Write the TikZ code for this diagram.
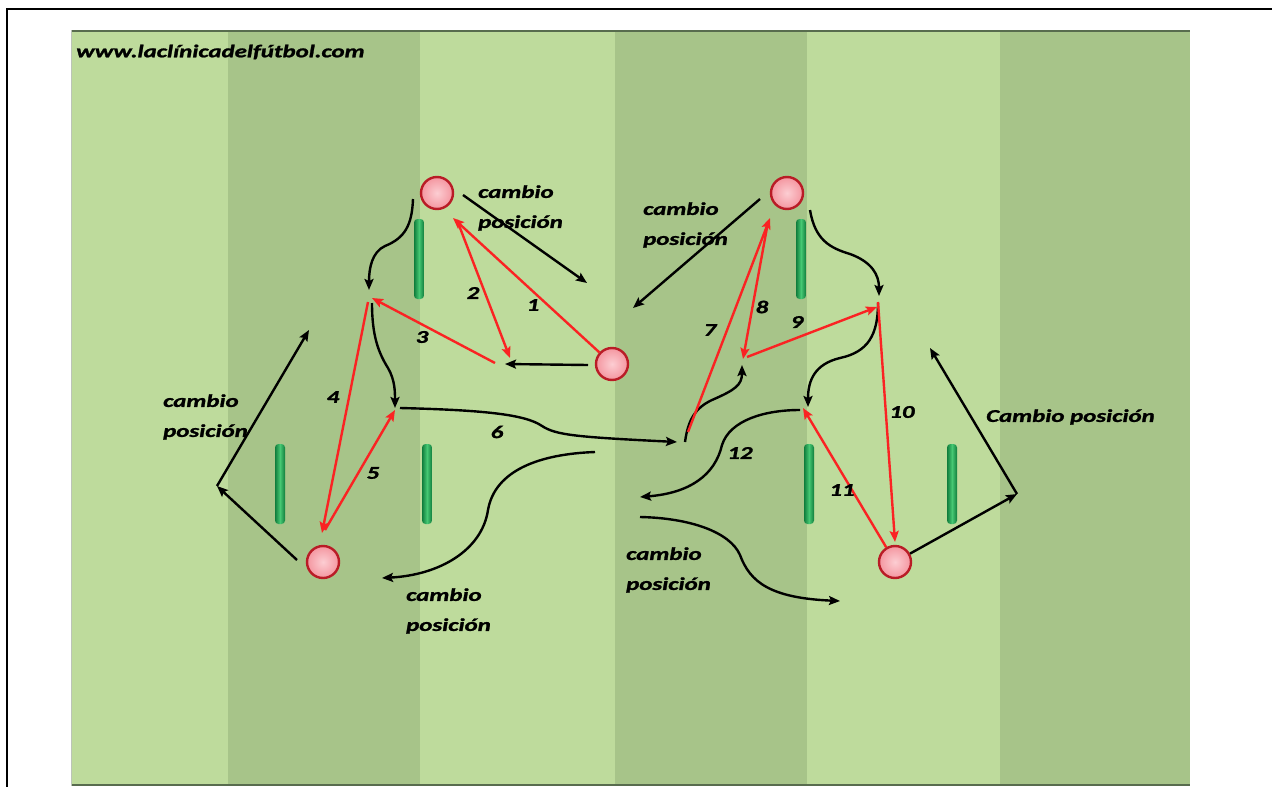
\documentclass[tikz,border=0pt]{standalone}
\usepackage{fontspec}
\setmainfont{Carlito}[BoldItalicFeatures={FakeBold=1.2}]
\usepackage{graphicx}
\usetikzlibrary{arrows.meta}

\definecolor{grassLight}{RGB}{190,219,156}
\definecolor{grassDark}{RGB}{167,196,137}
\definecolor{edgeDark}{RGB}{88,108,78}
\definecolor{playerFill}{RGB}{244,150,160}
\definecolor{playerCore}{RGB}{252,205,210}
\definecolor{playerRim}{RGB}{185,28,38}
\definecolor{poleDark}{RGB}{16,125,60}
\definecolor{poleLight}{RGB}{70,200,115}
\definecolor{passRed}{RGB}{250,35,35}

% widened bold italic lettering
\newcommand\wide[1]{\scalebox{1.38}[1]{#1}}
\newcommand\twolines[2]{\scalebox{1.38}[1]{\vbox{\baselineskip=30pt\hbox{#1}\hbox{#2}}}}

\begin{document}
\begin{tikzpicture}[x=1pt,y=-1pt,
  txt/.style={inner sep=0pt, font=\fontsize{18}{21}\selectfont\bfseries\itshape, text=black},
  player/.style={circle, minimum size=32pt, inner sep=0pt, draw=playerRim, line width=2.4pt,
                 inner color=playerCore, outer color=playerFill},
  pole/.style={rectangle, rounded corners=3.5pt, minimum width=10pt, minimum height=80pt, inner sep=0pt,
               left color=poleDark, right color=poleDark, middle color=poleLight},
  move/.style={draw=black, line width=2.4pt, -{Stealth[length=11pt,width=9pt,inset=2pt]}},
  pass/.style={draw=passRed, line width=2.4pt, -{Stealth[length=11pt,width=9pt,inset=2pt]}},
]
\useasboundingbox (0,0) rectangle (1272,787);

% striped pitch
\fill[grassLight] (71,30) rectangle (1190,786);
\fill[grassDark] (228,30) rectangle (420,786);
\fill[grassDark] (615,30) rectangle (807,786);
\fill[grassDark] (1000,30) rectangle (1190,786);
\draw[edgeDark, line width=2pt] (71,31) -- (1190,31);
\draw[edgeDark, line width=2pt] (71,785) -- (1190,785);
\draw[edgeDark!40, line width=1pt] (71.5,30) -- (71.5,786);

% page frame
\draw[black, line width=2.6pt] (1272,9) -- (7,9) -- (7,787);

% poles
\node[pole] (poleA) at (419,259) {};
\node[pole] (poleD) at (801,259) {};
\node[pole] (poleC1) at (280,484) {};
\node[pole] (poleC2) at (427,484) {};
\node[pole] (poleE1) at (809,484) {};
\node[pole] (poleE2) at (952,484) {};

% players
\node[player] (pA) at (437,193) {};
\node[player] (pB) at (612,364) {};
\node[player] (pC) at (323,562) {};
\node[player] (pD) at (787,193) {};
\node[player] (pE) at (895,562) {};

% free ends of the runs and passes
\coordinate (t1) at (453,218);
\coordinate (s2) at (457,220);
\coordinate (t2) at (510,358);
\coordinate (s3) at (495,363);
\coordinate (t3) at (372,298);
\coordinate (s4) at (368,302);
\coordinate (t4) at (322,533);
\coordinate (s5) at (325,530);
\coordinate (t5) at (395,410);
\coordinate (sB) at (588,365);
\coordinate (tB) at (505,364);
\coordinate (sA1) at (413,199);
\coordinate (tA1) at (369,290);
\coordinate (sA2) at (372,303);
\coordinate (tA2) at (395,408);
\coordinate (s6) at (400,408);
\coordinate (t6) at (677,442);
\coordinate (cA) at (463,195);
\coordinate (ctA) at (587,283);
\coordinate (cD) at (760,199);
\coordinate (ctD) at (633,308);
\coordinate (cC) at (297,560);
\coordinate (kL) at (217,486);
\coordinate (ctL) at (309,330);
\coordinate (kR) at (1017,494);
\coordinate (ctR) at (930,348);
\coordinate (sM) at (595,452);
\coordinate (tM) at (382,578);
\coordinate (sR) at (640,517);
\coordinate (tR) at (840,601);
\coordinate (s7) at (688,432);
\coordinate (t7) at (770,218);
\coordinate (s7b) at (685,442);
\coordinate (t7b) at (742,365);
\coordinate (s8) at (768,222);
\coordinate (t8) at (743,359);
\coordinate (s9) at (747,357);
\coordinate (t9) at (877,307);
\coordinate (sD1) at (810,210);
\coordinate (tD1) at (879,296);
\coordinate (sD2) at (878,303);
\coordinate (tD2) at (808,407);
\coordinate (s10) at (878,302);
\coordinate (t10) at (895,542);
\coordinate (t11) at (803,408);
\coordinate (s12) at (800,410);
\coordinate (t12) at (640,497);

% runs (black)
\draw[move] (sA1) .. controls (412,225) and (405,238) .. (385,246)
                  .. controls (372,252) and (369,268) .. (tA1);
\draw[move] (sA2) .. controls (372,335) and (378,352) .. (388,368)
                  .. controls (395,380) and (395,392) .. (tA2);
\draw[move] (s6) .. controls (480,410) and (525,414) .. (542,426)
                 .. controls (556,435) and (575,437) .. (t6);
\draw[move] (sB) -- (tB);
\draw[move] (cA) -- (ctA);
\draw[move] (cD) -- (ctD);
\draw[move] (cC) -- (kL);
\draw[move] (kL) -- (ctL);
\draw[move] (pE) -- (kR);
\draw[move] (kR) -- (ctR);
\draw[move] (sM) .. controls (540,454) and (495,470) .. (488,510)
                 .. controls (482,550) and (440,575) .. (tM);
\draw[move] (sR) .. controls (690,518) and (730,532) .. (740,555)
                 .. controls (750,582) and (770,598) .. (tR);
\draw[move] (s7b) .. controls (688,420) and (695,408) .. (712,400)
                  .. controls (735,390) and (742,385) .. (t7b);
\draw[move] (sD1) .. controls (815,240) and (830,248) .. (850,254)
                  .. controls (872,262) and (879,275) .. (tD1);
\draw[move] (sD2) .. controls (878,335) and (868,352) .. (840,358)
                  .. controls (815,364) and (808,380) .. (tD2);
\draw[move] (s12) .. controls (765,410) and (730,420) .. (722,445)
                  .. controls (715,475) and (690,493) .. (t12);

% passes (red)
\draw[pass] (pB) -- (t1);
\draw[pass] (s2) -- (t2);
\draw[pass] (s3) -- (t3);
\draw[pass] (s4) -- (t4);
\draw[pass] (s5) -- (t5);
\draw[pass] (s7) -- (t7);
\draw[pass] (s8) -- (t8);
\draw[pass] (s9) -- (t9);
\draw[pass] (s10) -- (t10);
\draw[pass] (pE) -- (t11);

% pass numbers
\node[txt] (n1) at (533,305) {\wide{1}};
\node[txt] (n2) at (473,293) {\wide{2}};
\node[txt] (n3) at (422,337) {\wide{3}};
\node[txt] (n4) at (333,397) {\wide{4}};
\node[txt] (n5) at (373,473) {\wide{5}};
\node[txt] (n6) at (497,432) {\wide{6}};
\node[txt] (n7) at (710,330) {\wide{7}};
\node[txt] (n8) at (762,307) {\wide{8}};
\node[txt] (n9) at (797,322) {\wide{9}};
\node[txt] (n10) at (902,412) {\wide{10}};
\node[txt] (n11) at (842,490) {\wide{11}};
\node[txt] (n12) at (740,453) {\wide{12}};

% captions
\node[txt, anchor=west] (web) at (76,52) {\wide{www.laclínicadelfútbol.com}};
\node[txt, anchor=west] (lblA) at (478,208) {\twolines{cambio}{posición}};
\node[txt, anchor=west] (lblD) at (643,225) {\twolines{cambio}{posición}};
\node[txt, anchor=west] (lblL) at (163,417) {\twolines{cambio}{posición}};
\node[txt, anchor=west] (lblM) at (406,611) {\twolines{cambio}{posición}};
\node[txt, anchor=west] (lblR) at (626,570) {\twolines{cambio}{posición}};
\node[txt, anchor=west] (lblE) at (986,417) {\wide{Cambio posición}};
\end{tikzpicture}
\end{document}
